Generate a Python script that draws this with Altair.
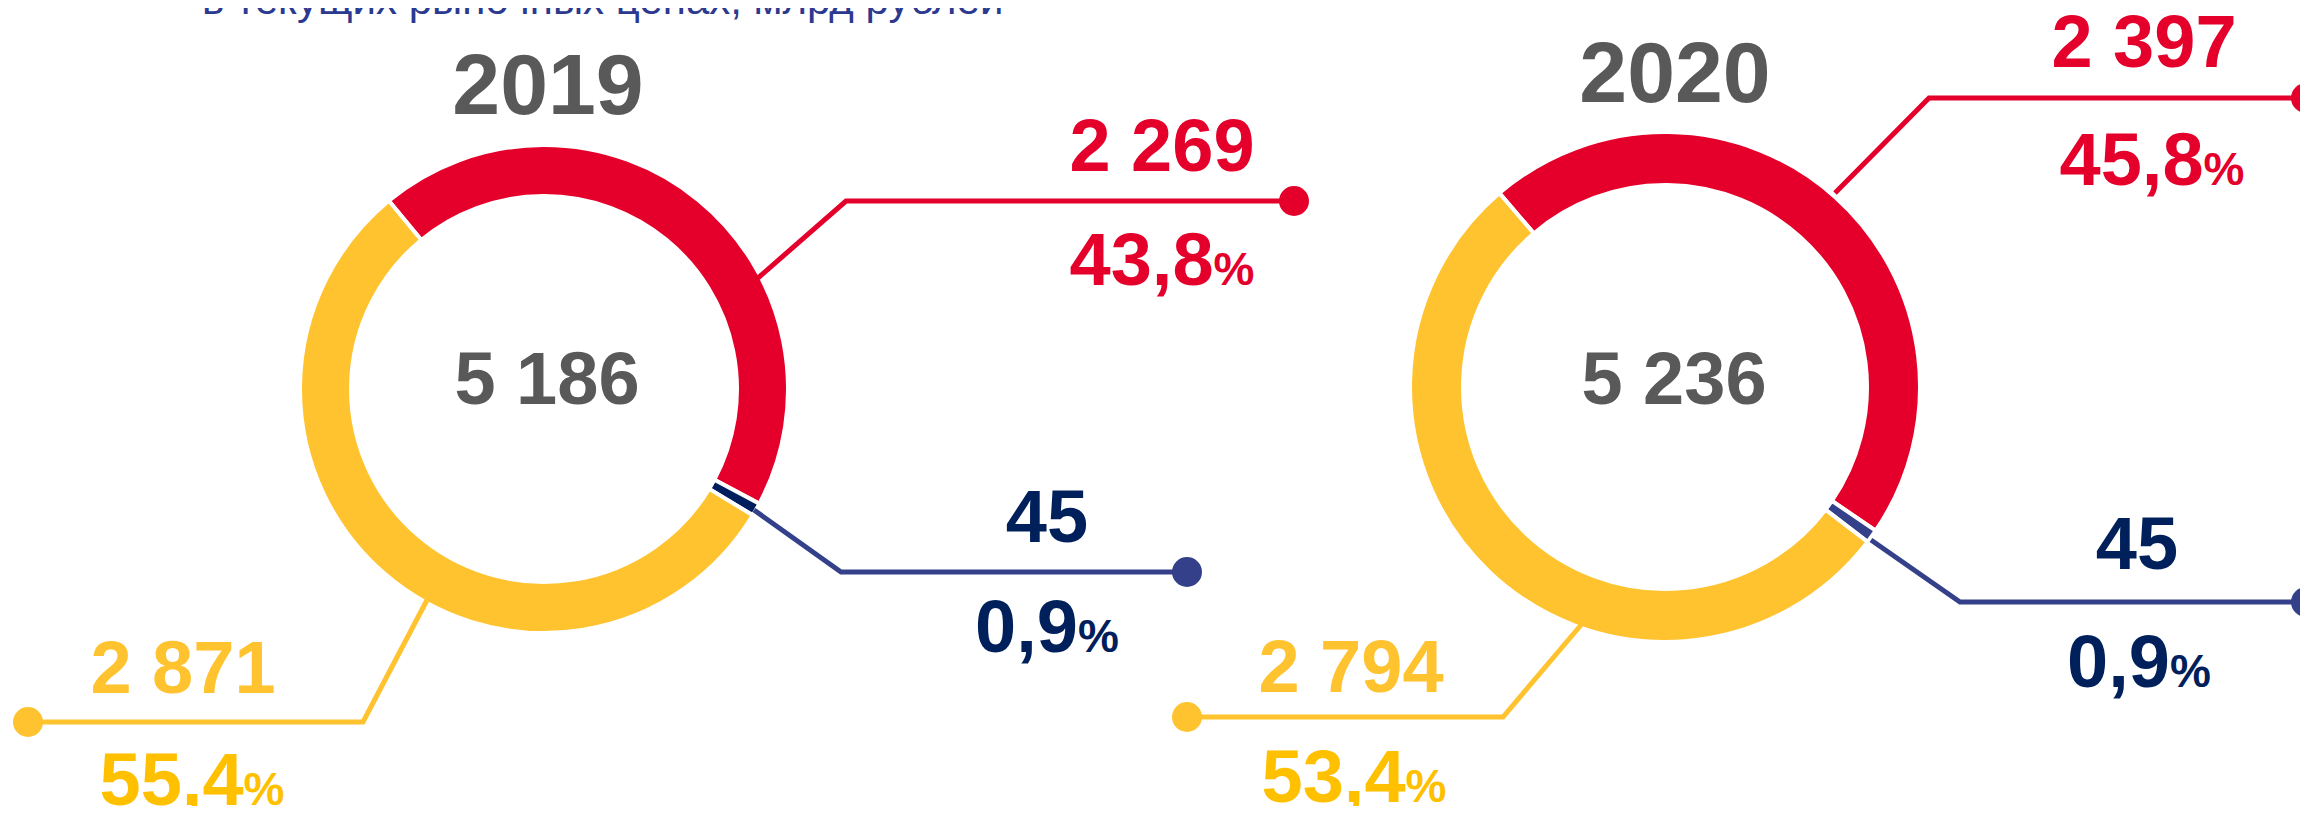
import math
import altair as alt
import pandas as pd

# ---------------- data ----------------
years = ["2019", "2020"]
segments = ["s1", "s2", "s3"]
values_2019 = [2269, 45, 2871]
values_2020 = [2397, 45, 2794]
shares_2019 = [43.8, 0.9, 55.4]
shares_2020 = [45.8, 0.9, 53.4]
totals = [5186, 5236]
subtitle = "в текущих рыночных ценах, млрд рублей"

values = {"2019": values_2019, "2020": values_2020}
shares = {"2019": shares_2019, "2020": shares_2020}

# ---------------- style / layout ----------------
M = 8
W, H = 2292, 798
RED = "#E4002B"
YEL = "#FFC32F"
YEL2 = "#FFC000"
NAVY = "#00205B"
BLUE = "#34418A"
GRAY = "#595959"
SUBC = "#2B3990"
FONT = "Liberation Sans"
FS_TITLE, FS_VAL, FS_PCT, FS_SUB = 86, 74, 46, 42

seg_colors = {"2019": [RED, "#001E5E", YEL], "2020": [RED, BLUE, YEL]}
line_colors = [RED, BLUE, YEL]
value_colors = [RED, NAVY, YEL]
pct_colors = [RED, NAVY, YEL2]

donut = {
    "2019": dict(cx=544, cy=389, R=242, r=195, start=-39.5, tx=548, ty=114, cxt=547, cyt=404),
    "2020": dict(cx=1665, cy=387, R=253, r=204, start=-40.5, tx=1675, ty=102, cxt=1674, cyt=404),
}
leaders = {
    "2019": [[(758, 278), (846, 201), (1294, 201)],
             [(754, 510), (841, 572), (1187, 572)],
             [(427, 600), (363, 722), (28, 722)]],
    "2020": [[(1835, 193), (1929, 98), (2306, 98)],
             [(1871, 540), (1960, 602), (2306, 602)],
             [(1581, 625), (1503, 717), (1187, 717)]],
}
label_pos = {  # value centre x, value baseline, pct centre x, pct baseline
    "2019": [(1162, 171, 1162, 285), (1047, 542, 1047, 652), (183, 693, 192, 805)],
    "2020": [(2144, 67, 2152, 185), (2137, 569, 2139, 687), (1351, 692, 1354, 802)],
}


def fmt_int(v):
    return f"{v:,}".replace(",", " ")


def fmt_pct(p):
    return f"{p:.1f}".replace(".", ",")


def adv(s, fs):
    w = 0.0
    for ch in s:
        w += {" ": 0.278, ",": 0.278, "%": 0.889}.get(ch, 0.556)
    return w * fs


xs = alt.Scale(domain=[0, W], range=[0, W], nice=False, zero=False)
ys = alt.Scale(domain=[0, H], range=[0, H], nice=False, zero=False)
X = alt.X("x:Q", scale=xs, axis=None)
Y = alt.Y("y:Q", scale=ys, axis=None)
C = alt.Color("col:N", scale=None)

layers = []

# donuts
for yr in years:
    d = donut[yr]
    df = pd.DataFrame({"seg": segments, "value": values[yr], "k": [0, 1, 2], "col": seg_colors[yr]})
    s = math.radians(d["start"])
    layers.append(
        alt.Chart(df).mark_arc(outerRadius=d["R"] + 2, innerRadius=d["r"] - 2,
                               stroke="white", strokeWidth=4).encode(
            theta=alt.Theta("value:Q", stack=True, scale=alt.Scale(range=[s, s + 2 * math.pi])),
            order=alt.Order("k:Q"),
            color=C,
            x=alt.value(d["cx"] - M),
            y=alt.value(d["cy"] - M),
        )
    )

# leader lines
rows = []
for yr in years:
    for si, pts in enumerate(leaders[yr]):
        for pi, (px, py) in enumerate(pts):
            rows.append(dict(id=f"{yr}-{si}", i=pi, x=px - M, y=py - M, col=line_colors[si]))
lines_df = pd.DataFrame(rows)
layers.append(
    alt.Chart(lines_df).mark_line(strokeWidth=5, strokeCap="butt", strokeJoin="miter").encode(
        x=X, y=Y, detail="id:N", order="i:Q", color=C)
)
layers.append(
    alt.Chart(lines_df[lines_df["i"] == 2]).mark_circle(size=900, opacity=1).encode(x=X, y=Y, color=C)
)

# centred texts
crow = []
for yi, yr in enumerate(years):
    d = donut[yr]
    crow.append(dict(x=d["tx"] - M, y=d["ty"] - M, t=yr, col=GRAY, fs=FS_TITLE))
    crow.append(dict(x=d["cxt"] - M, y=d["cyt"] - M, t=fmt_int(totals[yi]), col=GRAY, fs=FS_VAL))
    for si in range(3):
        vx, vy, _, _ = label_pos[yr][si]
        crow.append(dict(x=vx - M, y=vy - M, t=fmt_int(values[yr][si]), col=value_colors[si], fs=FS_VAL))
layers.append(
    alt.Chart(pd.DataFrame(crow)).mark_text(align="center", baseline="alphabetic", font=FONT,
                                            fontWeight="bold").encode(
        x=X, y=Y, text="t:N", color=C, size=alt.Size("fs:Q", scale=None))
)

# percentage texts (number + smaller % sign)
prow = []
for yr in years:
    for si in range(3):
        _, _, px, py = label_pos[yr][si]
        num = fmt_pct(shares[yr][si])
        wn = adv(num, FS_VAL)
        wp = adv("%", FS_PCT)
        left = px - (wn + wp) / 2
        prow.append(dict(x=left - M, y=py - M, t=num, col=pct_colors[si], fs=FS_VAL))
        prow.append(dict(x=left + wn - M, y=py - M, t="%", col=pct_colors[si], fs=FS_PCT))
layers.append(
    alt.Chart(pd.DataFrame(prow)).mark_text(align="left", baseline="alphabetic", font=FONT,
                                            fontWeight="bold").encode(
        x=X, y=Y, text="t:N", color=C, size=alt.Size("fs:Q", scale=None))
)

# subtitle (cut at the top as in the source)
layers.append(
    alt.Chart(pd.DataFrame({"t": [subtitle]})).mark_text(
        align="left", baseline="alphabetic", font=FONT, fontSize=FS_SUB, color=SUBC).encode(
        x=alt.value(202 - M), y=alt.value(14 - M), text="t:N")
)

chart = (
    alt.layer(*layers)
    .resolve_scale(theta="independent")
    .properties(width=W, height=H, padding=0, autosize=alt.AutoSizeParams(type="none"))
    .configure_view(strokeWidth=0)
)

chart.save("out.html", embed_options={"renderer": "svg", "actions": False})
